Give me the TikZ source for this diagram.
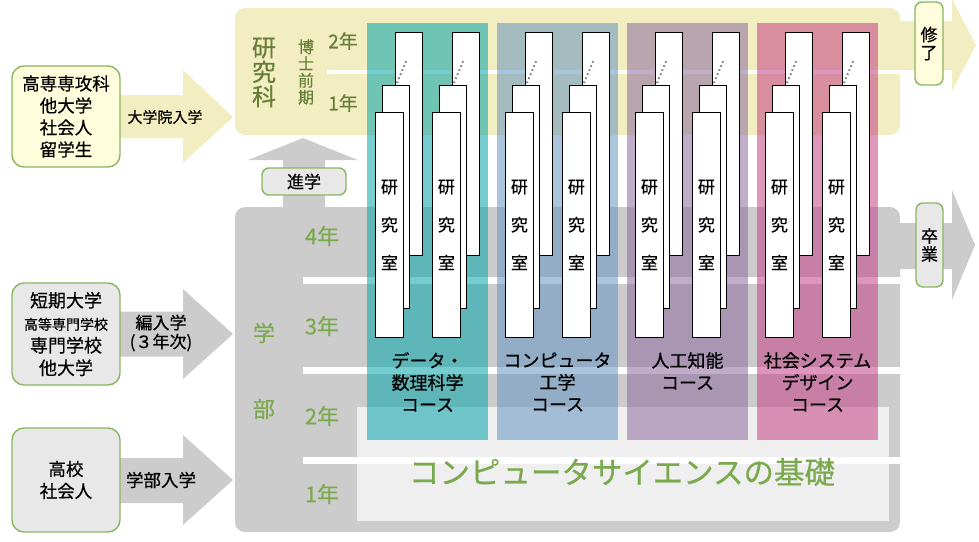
\documentclass[tikz,border=0pt]{standalone}
\usepackage{fontspec}
\setmainfont{Noto Sans CJK JP}[FakeBold=0.5]
\definecolor{ylw}{HTML}{F3EDC2}
\definecolor{gry}{HTML}{CCCCCC}
\definecolor{csbg}{HTML}{EFEFEF}
\definecolor{bgreen}{HTML}{8AB661}
\definecolor{dgreen}{HTML}{667F37}
\definecolor{lgreen}{HTML}{7BAA4E}
\definecolor{cteal}{RGB}{6,164,170}
\definecolor{cblue}{RGB}{100,149,192}
\definecolor{cpurp}{RGB}{139,107,158}
\definecolor{cpink}{RGB}{196,65,133}
\definecolor{lyel}{HTML}{FFFDDC}
\definecolor{lgry}{HTML}{E8E8E8}
\begin{document}
\begin{tikzpicture}[x=1pt,y=-1pt,
  srcbox/.style={draw=bgreen, line width=1.4pt, rounded corners=12pt, align=center, inner sep=0pt},
  endbox/.style={draw=bgreen, line width=1.4pt, rounded corners=7pt, align=center, inner sep=0pt},
  labbox/.style={draw=black, fill=white, line width=0.8pt},
  course/.style={opacity=0.55},
  yline/.style={draw=white},
  jp/.style={font=\fontsize{#1}{#1}\selectfont},
  clabel/.style={align=center, font=\fontsize{18}{22}\selectfont, inner sep=0pt},
]
\useasboundingbox (0,0) rectangle (979,541);
% right arrows
\fill[ylw] (890,21) -- (952,21) -- (952,-1) -- (976,45) -- (952,91) -- (952,70) -- (890,70) -- cycle;
\fill[gry] (890,223) -- (952,223) -- (952,190) -- (975,245) -- (952,300) -- (952,269) -- (890,269) -- cycle;
% main areas
\fill[ylw, rounded corners=10pt] (235,8) rectangle (900,135);
\fill[gry, rounded corners=10pt] (235,207) rectangle (900,532);
\fill[csbg] (357,407) rectangle (889,521);
% year separators
\draw[yline, line width=3.5pt] (327,72) -- (900,72);
\draw[yline, line width=7pt] (303,280.5) -- (900,280.5);
\draw[yline, line width=7pt] (303,370) -- (900,370);
\draw[yline, line width=7pt] (303,460) -- (900,460);
% up arrow
\fill[gry] (283,210) -- (283,160) -- (248,160) -- (303,138) -- (358,160) -- (325,160) -- (325,210) -- cycle;
% left arrows
\fill[ylw] (115,95) -- (183,95) -- (183,70) -- (233,117) -- (183,163) -- (183,138) -- (115,138) -- cycle;
\fill[gry] (115,311.5) -- (183,311.5) -- (183,289) -- (233,334) -- (183,379) -- (183,356.5) -- (115,356.5) -- cycle;
\fill[gry] (115,458) -- (183,458) -- (183,435) -- (233,480) -- (183,525) -- (183,503) -- (115,503) -- cycle;
% source boxes
\node[srcbox, fill=lyel, minimum width=108pt, minimum height=101pt, font=\fontsize{17.5}{22}\selectfont] (srcA) at (66,116.5) {高専専攻科\\他大学\\社会人\\留学生};
\node[srcbox, fill=lgry, minimum width=108pt, minimum height=102pt, font=\fontsize{18}{22.5}\selectfont] (srcB) at (66,334) {短期大学\\{\fontsize{14}{22.5}\selectfont 高等専門学校}\\専門学校\\他大学};
\node[srcbox, fill=lgry, minimum width=108pt, minimum height=104pt, font=\fontsize{17.5}{22}\selectfont] (srcC) at (66,480) {高校\\社会人};
% arrow labels
\node[jp=15, inner sep=0pt] (lblA) at (165,117) {大学院入学};
\node[align=center, font=\fontsize{17}{19}\selectfont, inner sep=0pt] (lblB) at (161,333) {編入学\\(３年次)};
\node[jp=17.5, inner sep=0pt] (lblC) at (161,480) {学部入学};
% end boxes
\node[endbox, fill=lyel, minimum width=28pt, minimum height=83pt, font=\fontsize{17}{18}\selectfont] (shuryo) at (929,43.5) {修\\了};
\node[endbox, fill=lgry, minimum width=27pt, minimum height=84pt, font=\fontsize{17}{18}\selectfont] (sotsu) at (929.5,245) {卒\\業};
\node[endbox, fill=lgry, minimum width=84pt, minimum height=27pt, jp=17] (shingaku) at (304,181.5) {進学};
% courses
\fill[cteal, course] (367,23) rectangle (488,440);
\fill[cblue, course] (497,23) rectangle (618,440);
\fill[cpurp, course] (627,23) rectangle (748,440);
\fill[cpink, course] (757,23) rectangle (878,440);
% lab stacks
\foreach \c in {367,497,627,757} {
  \foreach \o in {0,57} {
    \pgfmathsetmacro\xx{\c+\o}
    \draw[labbox] (\xx+28,32) rectangle (\xx+55,255);
    \draw[black!50, line width=2pt, dash pattern=on 1.6pt off 2.8pt] (\xx+30,83) -- (\xx+40,59);
    \draw[labbox] (\xx+15,85) rectangle (\xx+42,308);
    \node[labbox, minimum width=28pt, minimum height=225pt, anchor=north west, align=center, inner sep=0pt, font=\fontsize{17}{38}\selectfont] (lab-\c-\o) at (\xx+8,112) {研\\究\\室};
  }
}
% course labels
\node[clabel] (cds) at (427.5,382) {データ・\\数理科学\\コース};
\node[clabel] (cce) at (557.5,382) {コンピュータ\\工学\\コース};
\node[clabel] (cai) at (687.5,371) {人工知能\\コース};
\node[clabel] (csd) at (817.5,382) {社会システム\\デザイン\\コース};
% graduate labels
\node[align=center, text=dgreen, font=\fontsize{24}{24.5}\selectfont, inner sep=0pt] (kenkyuka) at (264,72.5) {研\\究\\科};
\node[align=center, text=dgreen, font=\fontsize{16}{16.8}\selectfont, inner sep=0pt] (hakushi) at (306,72) {博\\士\\前\\期};
\node[text=dgreen, jp=19, inner sep=0pt] (g2) at (343,41) {2年};
\node[text=dgreen, jp=19, inner sep=0pt] (g1) at (343,103) {1年};
% undergraduate labels
\node[text=lgreen, jp=22, inner sep=0pt] (ga) at (264,333) {学};
\node[text=lgreen, jp=22, inner sep=0pt] (bu) at (264,409) {部};
\node[text=lgreen, jp=22, inner sep=0pt] (u4) at (322,236) {4年};
\node[text=lgreen, jp=22, inner sep=0pt] (u3) at (322,326) {3年};
\node[text=lgreen, jp=22, inner sep=0pt] (u2) at (322,416) {2年};
\node[text=lgreen, jp=22, inner sep=0pt] (u1) at (322,494) {1年};
\node[text=lgreen, jp=30.5, inner sep=0pt] (csbase) at (622,472) {コンピュータサイエンスの基礎};
\end{tikzpicture}
\end{document}
